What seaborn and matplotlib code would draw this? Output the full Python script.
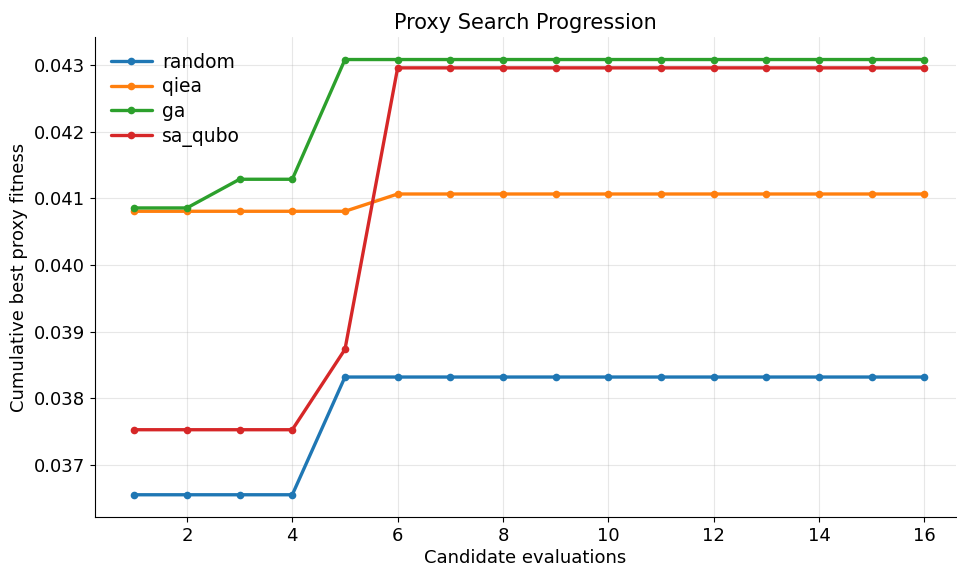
import numpy as np
import pandas as pd
import matplotlib
matplotlib.use("Agg")
import matplotlib.pyplot as plt
import seaborn as sns

evaluations = list(range(1, 17))
random_vals = [0.036555]*4 + [0.03832]*12
qiea_vals = [0.040805]*5 + [0.041064]*11
ga_vals = [0.040855]*2 + [0.041285]*2 + [0.04308]*12
sa_qubo_vals = [0.03753]*4 + [0.038735] + [0.042955]*11
methods = ["random", "qiea", "ga", "sa_qubo"]
colors = ["#1f77b4", "#ff7f0e", "#2ca02c", "#d62728"]

rows = []
for m, vals in zip(methods, [random_vals, qiea_vals, ga_vals, sa_qubo_vals]):
    for e, v in zip(evaluations, vals):
        rows.append({"evaluation": e, "fitness": v, "method": m})
df = pd.DataFrame(rows)

sns.set_style("ticks", {"text.color": "black", "axes.labelcolor": "black",
                        "xtick.color": "black", "ytick.color": "black",
                        "axes.edgecolor": "black"})
fig = plt.figure(figsize=(9.57, 5.67), dpi=100)
ax = fig.add_axes([0.099, 0.088, 0.900, 0.847])
sns.lineplot(data=df, x="evaluation", y="fitness", hue="method", hue_order=methods,
             palette=colors, marker="o", markersize=5.5, markeredgewidth=0,
             linewidth=2.4, ax=ax)
ax.grid(True, color="#b0b0b0", alpha=0.3, linewidth=0.8)
sns.despine(ax=ax)
ax.set_title("Proxy Search Progression", fontsize=15)
ax.set_xlabel("Candidate evaluations", fontsize=13, labelpad=3)
ax.set_ylabel("Cumulative best proxy fitness", fontsize=13)
ax.tick_params(labelsize=13)
ax.set_xticks([2, 4, 6, 8, 10, 12, 14, 16])
ax.set_yticks([0.037, 0.038, 0.039, 0.040, 0.041, 0.042, 0.043])
ax.yaxis.set_major_formatter(matplotlib.ticker.FormatStrFormatter("%.3f"))
ax.set_xlim(0.25, 16.6)
ax.set_ylim(0.03622, 0.04342)
leg = ax.legend(loc="upper left", frameon=False, fontsize=13.5, handlelength=2.2,
                labelspacing=0.3, handletextpad=0.55, borderaxespad=0.45)
fig.savefig("out.png", dpi=100)
